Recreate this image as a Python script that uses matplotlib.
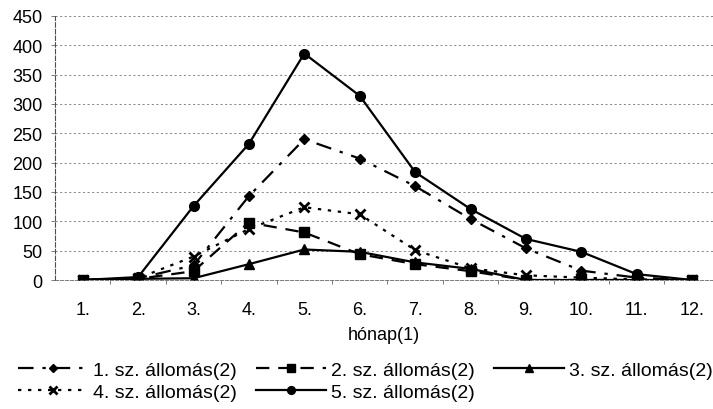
import numpy as np
import matplotlib
matplotlib.use('Agg')
import matplotlib.pyplot as plt

plt.rcParams['font.family'] = ['Liberation Sans', 'DejaVu Sans']

# havi értékek, állomásonként
months = ['1.', '2.', '3.', '4.', '5.', '6.', '7.', '8.', '9.', '10.', '11.', '12.']
station1 = [0, 3, 25, 143, 240, 207, 160, 104, 54, 16, 4, 0]
station2 = [0, 2, 15, 98, 81, 44, 27, 15, 0, 0, 0, 0]
station3 = [0, 2, 3, 27, 52, 48, 30, 19, 0, 0, 0, 0]
station4 = [0, 3, 40, 87, 124, 112, 51, 20, 8, 4, 1, 0]
station5 = [0, 5, 126, 232, 386, 314, 184, 121, 70, 48, 10, 0]
y_ticks = [0, 50, 100, 150, 200, 250, 300, 350, 400, 450]

W, H = 713, 410
fig = plt.figure(figsize=(W / 100, H / 100), dpi=100)
ax = fig.add_axes([55 / W, 129 / H, (W - 55) / W, 264 / H])

x = np.arange(1, len(months) + 1)
lw = 1.6
ms = 6.5
l1, = ax.plot(x, station1, color='black', lw=lw, linestyle=(0, (7, 4, 1.5, 4)),
              marker='D', ms=ms - 1, label='1. sz. állomás(2)')
l2, = ax.plot(x, station2, color='black', lw=lw, linestyle=(0, (6, 4)),
              marker='s', ms=ms, label='2. sz. állomás(2)')
l3, = ax.plot(x, station3, color='black', lw=lw, linestyle='-',
              marker='^', ms=ms, label='3. sz. állomás(2)')
l4, = ax.plot(x, station4, color='black', lw=lw, linestyle=(0, (1.5, 3)),
              marker='x', ms=ms + 0.5, mew=2, label='4. sz. állomás(2)')
l5, = ax.plot(x, station5, color='black', lw=lw, linestyle='-',
              marker='o', ms=ms + 0.5, label='5. sz. állomás(2)')

ax.set_xlim(0.5, 0.5 + (W - 55) / 55.4)
ax.set_ylim(0, 450)
ax.set_xticks(x)
ax.set_xticklabels(months, fontsize=13)
ax.set_xticks(np.arange(1.5, 12, 1), minor=True)
ax.tick_params(axis='x', which='major', length=0, pad=15)
ax.tick_params(axis='x', which='minor', length=3, width=0.6, color='0.4')
ax.set_yticks(y_ticks)
ax.set_yticklabels([str(v) for v in y_ticks], fontsize=13)
ax.tick_params(axis='y', length=3, width=0.6, color='0.4', pad=6)
ax.set_xlabel('hónap(1)', fontsize=13, labelpad=6)

# szaggatott rácsvonalak
for v in y_ticks[1:]:
    ax.axhline(v, color='0.45', lw=0.6, linestyle=(0, (2.5, 3)), zorder=0)

for side in ['top', 'right']:
    ax.spines[side].set_visible(False)
ax.spines['left'].set_linestyle((0, (4, 2)))
ax.spines['left'].set_linewidth(0.8)
ax.spines['left'].set_color('0.3')
ax.spines['bottom'].set_linestyle((0, (4, 2)))
ax.spines['bottom'].set_linewidth(0.6)
ax.spines['bottom'].set_color('0.4')

handles = [l1, l4, l2, l5, l3]
leg = fig.legend(handles=handles, labels=[h.get_label() for h in handles],
                 loc='upper left', bbox_to_anchor=(18 / W, 48 / H), ncol=3,
                 frameon=False, fontsize=14, handlelength=3.6,
                 handletextpad=0.25, columnspacing=1.0, labelspacing=0.25,
                 borderaxespad=0.0, borderpad=0.0, markerscale=0.8)

fig.savefig('out.png', dpi=100)
